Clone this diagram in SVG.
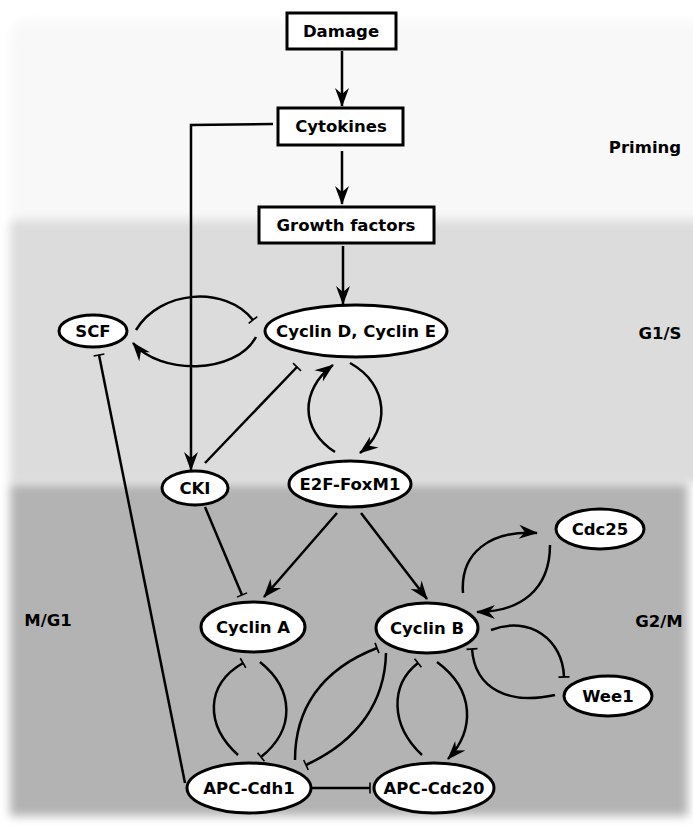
<svg xmlns="http://www.w3.org/2000/svg" width="693" height="829" viewBox="0 0 693 829">
<style>
text{font-family:"DejaVu Sans","Liberation Sans",sans-serif;font-weight:bold;font-size:16.5px;text-anchor:middle;fill:#000}
.n ellipse,.n rect{fill:#fff;stroke:#000;stroke-width:3}
.e path{fill:none;stroke:#000;stroke-width:2.5}
.a{marker-end:url(#arr)}
.t{marker-end:url(#tee)}
</style>
<defs>
<filter id="bl" x="-10%" y="-10%" width="120%" height="120%"><feGaussianBlur stdDeviation="5"/></filter>
<marker id="arr" markerUnits="userSpaceOnUse" orient="auto" refX="0" refY="0" markerWidth="20" markerHeight="20" overflow="visible">
<path d="M1,0 L-18,-7 L-12,0 L-18,7 Z" fill="#000"/>
</marker>
<marker id="tee" markerUnits="userSpaceOnUse" orient="auto" refX="0" refY="0" markerWidth="12" markerHeight="12" overflow="visible">
<path d="M0,-5.5 L0,5.5" stroke="#000" stroke-width="1.6"/>
</marker>
</defs>
<rect width="693" height="829" fill="#fff"/>
<g id="bands">
<rect x="10" y="20" width="720" height="205" rx="18" fill="#f8f8f8" filter="url(#bl)"/>
<rect x="10" y="220" width="720" height="263" fill="#dcdcdc" filter="url(#bl)"/>
<rect x="10" y="484" width="678" height="332" fill="#b3b3b3" filter="url(#bl)"/>
</g>
<g id="labels">
<text x="645" y="153">Priming</text>
<text x="660" y="339">G1/S</text>
<text x="48" y="626">M/G1</text>
<text x="659" y="627">G2/M</text>
</g>
<g id="edges" class="e">
<path class="a" d="M342,51 L342,106"/>
<path class="a" d="M342,151 L342,204"/>
<path class="a" d="M343,246 L343,304"/>
<path class="a" d="M273,124 L191,125 L191,470"/>
<path class="t" d="M136,330 C160,290 225,285 253,320"/>
<path class="a" d="M256,337 C235,375 160,375 133,343"/>
<path class="t" d="M205,463 L297,367"/>
<path class="a" d="M350,363 C390,385 390,430 360,453"/>
<path class="a" d="M335,452 C300,430 300,390 333,365"/>
<path class="t" d="M185,783 L99,355"/>
<path class="t" d="M205,507 L242,595"/>
<path class="a" d="M337,513 L264,597"/>
<path class="a" d="M361,513 L427,599"/>
<path class="a" d="M463,593 C460,553 490,530 537,533"/>
<path class="a" d="M550,545 C550,590 520,612 477,612"/>
<path class="t" d="M491,630 C530,615 563,640 564,677"/>
<path class="t" d="M555,695 C510,705 475,690 472,649"/>
<path class="t" d="M238,755 C205,725 205,685 243,663"/>
<path class="t" d="M260,662 C295,690 295,730 261,757"/>
<path class="t" d="M295,760 C295,710 320,670 377,648"/>
<path class="t" d="M386,653 C385,700 360,740 306,765"/>
<path class="t" d="M422,755 C390,725 390,685 418,663"/>
<path class="a" d="M437,662 C475,690 475,730 448,759"/>
<path class="t" d="M312,788 L370,788"/>
</g>
<g id="damage" class="n"><rect x="287" y="13" width="109" height="36"/><text x="341" y="37">Damage</text></g>
<g id="cytokines" class="n"><rect x="278" y="108" width="125" height="37"/><text x="341" y="132">Cytokines</text></g>
<g id="growth" class="n"><rect x="259" y="207" width="175" height="36"/><text x="346" y="231">Growth factors</text></g>
<g id="scf" class="n"><ellipse cx="93" cy="331" rx="34" ry="16"/><text x="93" y="337">SCF</text></g>
<g id="cycd" class="n"><ellipse cx="356" cy="331" rx="91" ry="26"/><text x="356" y="337">Cyclin D, Cyclin E</text></g>
<g id="cki" class="n"><ellipse cx="195" cy="488" rx="33" ry="17"/><text x="195" y="494">CKI</text></g>
<g id="e2f" class="n"><ellipse cx="350" cy="484" rx="61" ry="23"/><text x="350" y="490">E2F-FoxM1</text></g>
<g id="cdc25" class="n"><ellipse cx="600" cy="529" rx="44" ry="20"/><text x="600" y="535">Cdc25</text></g>
<g id="cyca" class="n"><ellipse cx="253" cy="627" rx="52" ry="25"/><text x="253" y="633">Cyclin A</text></g>
<g id="cycb" class="n"><ellipse cx="427" cy="628" rx="51" ry="25"/><text x="427" y="634">Cyclin B</text></g>
<g id="wee1" class="n"><ellipse cx="608" cy="696" rx="44" ry="20"/><text x="608" y="702">Wee1</text></g>
<g id="apccdh1" class="n"><ellipse cx="249" cy="788" rx="62" ry="25"/><text x="249" y="794">APC-Cdh1</text></g>
<g id="apccdc20" class="n"><ellipse cx="434" cy="788" rx="60" ry="25"/><text x="434" y="794">APC-Cdc20</text></g>
</svg>
